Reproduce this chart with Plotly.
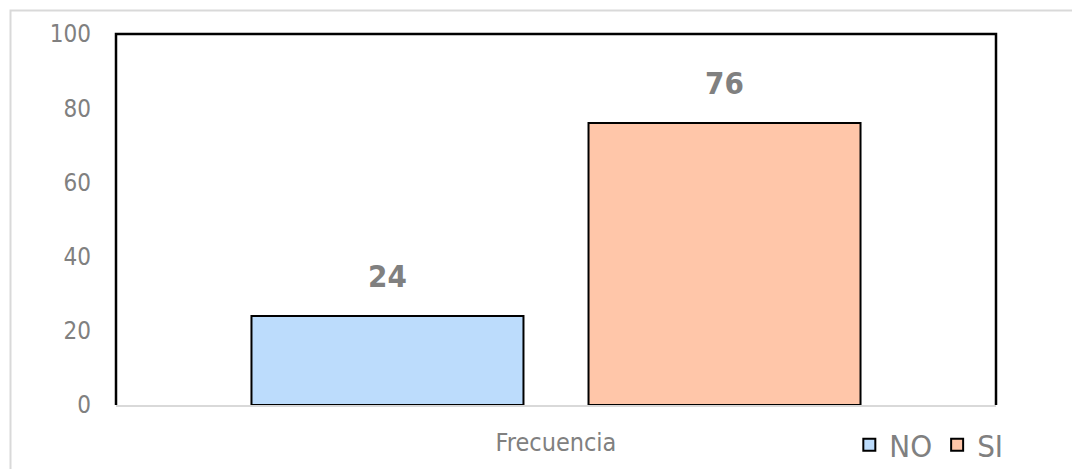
import plotly.graph_objects as go

categories = ["Frecuencia"]
series_names = ["NO", "SI"]
no_values = [24]
si_values = [76]
y_ticks = [0, 20, 40, 60, 80, 100]

FONT = "Liberation Sans Narrow, DejaVu Sans Condensed, Liberation Sans, sans-serif"
GRAY = "#808080"

# page body has an 8px default margin, so the figure is laid out 8px up/left
W, H = 1072, 461
L, T = 108, 26
pw, ph = 880, 371
R, B = W - L - pw, H - T - ph

fig = go.Figure()
fig.add_trace(go.Bar(
    name=series_names[0], x=categories, y=no_values,
    marker=dict(color="#BCDCFC", line=dict(color="black", width=2)),
))
fig.add_trace(go.Bar(
    name=series_names[1], x=categories, y=si_values,
    marker=dict(color="#FFC6A9", line=dict(color="black", width=2)),
))

annotations = []
for vals, shift in ((no_values, -168.5), (si_values, 168.5)):
    for c, v in zip(categories, vals):
        annotations.append(dict(
            x=c, y=v, xref="x", yref="y", xshift=shift, yshift=20,
            yanchor="bottom", showarrow=False, text=f"<b>{v}</b>",
            font=dict(family=FONT, size=31, color=GRAY),
        ))

fig.update_layout(
    width=W, height=H,
    margin=dict(l=L, r=R, t=T, b=B, autoexpand=False),
    paper_bgcolor="white", plot_bgcolor="white",
    barmode="group", bargap=0.234, bargroupgap=0.193,
    font=dict(family=FONT, color=GRAY),
    showlegend=True,
    legend=dict(orientation="h", x=1.014, xanchor="right",
                y=-(437 - (T + ph)) / ph, yanchor="middle",
                font=dict(family=FONT, size=31, color=GRAY),
                itemwidth=30, tracegroupgap=0, bgcolor="rgba(0,0,0,0)"),
    xaxis=dict(showline=True, linecolor="#D9D9D9", linewidth=2,
               ticks="", tickfont=dict(family=FONT, size=25, color=GRAY),
               ticklabelstandoff=14, showgrid=False, automargin=False),
    yaxis=dict(range=[0, 100], tickvals=y_ticks, showgrid=False,
               zeroline=False, showline=False, ticks="",
               tickfont=dict(family=FONT, size=24, color=GRAY),
               ticklabelstandoff=24, automargin=False),
    annotations=annotations,
    shapes=[
        dict(type="rect", xref="paper", yref="paper",
             x0=(2.5 - L) / pw, x1=(1090 - L) / pw,
             y0=-(480 - (T + ph)) / ph, y1=1 + (T - 2.5) / ph,
             line=dict(color="#D9D9D9", width=2), layer="below"),
        dict(type="path", xref="paper", yref="paper",
             path="M 0 0 L 0 1 L 1 1 L 1 0",
             line=dict(color="black", width=2.5), layer="above"),
    ],
)

fig.write_html("out.html")
